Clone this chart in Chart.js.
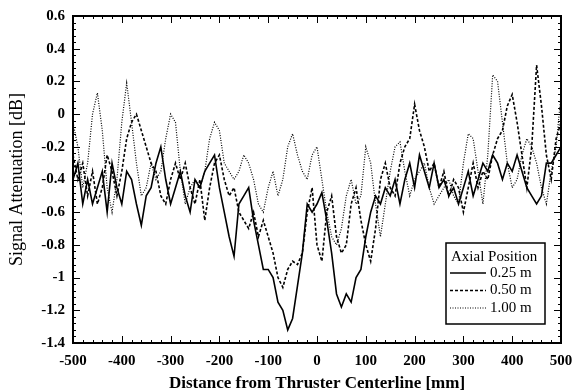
<!DOCTYPE html>
<html>
<head>
<meta charset="utf-8">
<script src="https://cdn.jsdelivr.net/npm/chart.js@4.4.1/dist/chart.umd.min.js"></script>
<style>
html,body{margin:0;padding:0;background:#fff;}
#wrap{width:573px;height:392px;}
</style>
</head>
<body>
<div id="wrap"><canvas id="c" width="573" height="392"></canvas></div>
<script>
const distances = [-500,-490,-480,-470,-460,-450,-440,-430,-420,-410,-400,-390,-380,-370,-360,-350,-340,-330,-320,-310,-300,-290,-280,-270,-260,-250,-240,-230,-220,-210,-200,-190,-180,-170,-160,-150,-140,-130,-120,-110,-100,-90,-80,-70,-60,-50,-40,-30,-20,-10,0,10,20,30,40,50,60,70,80,90,100,110,120,130,140,150,160,170,180,190,200,210,220,230,240,250,260,270,280,290,300,310,320,330,340,350,360,370,380,390,400,410,420,430,440,450,460,470,480,490,500];

const pos025 = [-0.40,-0.30,-0.55,-0.40,-0.55,-0.45,-0.35,-0.60,-0.30,-0.45,-0.55,-0.35,-0.40,-0.55,-0.68,-0.50,-0.45,-0.30,-0.20,-0.40,-0.55,-0.45,-0.35,-0.50,-0.60,-0.40,-0.45,-0.35,-0.30,-0.25,-0.45,-0.60,-0.75,-0.87,-0.55,-0.50,-0.45,-0.65,-0.80,-0.95,-0.95,-1.00,-1.15,-1.20,-1.32,-1.25,-1.05,-0.85,-0.55,-0.60,-0.55,-0.48,-0.65,-0.85,-1.10,-1.18,-1.10,-1.15,-1.00,-0.95,-0.75,-0.60,-0.50,-0.55,-0.45,-0.50,-0.40,-0.55,-0.40,-0.30,-0.45,-0.25,-0.35,-0.45,-0.30,-0.45,-0.40,-0.50,-0.45,-0.55,-0.45,-0.35,-0.50,-0.40,-0.30,-0.35,-0.25,-0.30,-0.40,-0.30,-0.35,-0.25,-0.35,-0.45,-0.50,-0.55,-0.50,-0.30,-0.30,-0.25,-0.20];

const pos050 = [-0.25,-0.40,-0.30,-0.50,-0.35,-0.55,-0.45,-0.25,-0.35,-0.50,-0.35,-0.15,-0.05,0.00,-0.10,-0.20,-0.30,-0.35,-0.50,-0.55,-0.40,-0.30,-0.40,-0.30,-0.45,-0.55,-0.40,-0.65,-0.45,-0.30,-0.25,-0.40,-0.50,-0.45,-0.60,-0.65,-0.70,-0.60,-0.75,-0.65,-0.75,-0.85,-1.00,-1.06,-0.95,-0.90,-0.92,-0.85,-0.60,-0.45,-0.80,-0.90,-0.60,-0.50,-0.75,-0.85,-0.80,-0.55,-0.45,-0.65,-0.80,-0.90,-0.70,-0.40,-0.30,-0.45,-0.50,-0.30,-0.20,-0.15,0.06,-0.10,-0.20,-0.35,-0.30,-0.45,-0.35,-0.50,-0.40,-0.45,-0.60,-0.45,-0.30,-0.45,-0.35,-0.40,-0.25,-0.15,-0.10,0.05,0.12,-0.05,-0.25,-0.45,-0.20,0.30,0.05,-0.25,-0.40,-0.15,-0.05];

const pos100 = [-0.05,-0.20,-0.45,-0.30,0.00,0.13,-0.10,-0.45,-0.60,-0.40,-0.05,0.19,-0.05,-0.30,-0.50,-0.45,-0.30,-0.40,-0.35,-0.15,0.00,-0.05,-0.35,-0.55,-0.45,-0.40,-0.45,-0.35,-0.15,-0.05,-0.10,-0.30,-0.35,-0.40,-0.35,-0.25,-0.30,-0.40,-0.55,-0.60,-0.45,-0.35,-0.50,-0.40,-0.20,-0.12,-0.25,-0.35,-0.40,-0.25,-0.20,-0.40,-0.60,-0.75,-0.80,-0.70,-0.50,-0.40,-0.55,-0.50,-0.20,-0.30,-0.55,-0.75,-0.55,-0.35,-0.20,-0.17,-0.35,-0.50,-0.40,-0.35,-0.30,-0.45,-0.55,-0.50,-0.45,-0.40,-0.50,-0.55,-0.30,-0.12,-0.15,-0.35,-0.55,-0.25,0.24,0.20,-0.05,-0.30,-0.45,-0.40,-0.25,-0.15,-0.20,-0.30,-0.45,-0.55,-0.35,-0.20,0.12];

const seriesLabels = ['0.25 m','0.50 m','1.00 m'];
const legendTitle = 'Axial Position';
const xTitle = 'Distance from Thruster Centerline [mm]';
const yTitle = 'Signal Attenuation [dB]';

function pts(vals){ return distances.map((d,i)=>({x:d,y:vals[i]})); }

const serif = "'Liberation Serif','Times New Roman',serif";

const tickPlugin = {
  id:'inTicks',
  afterDraw(chart){
    const ctx = chart.ctx, a = chart.chartArea;
    const xs = chart.scales.x, ys = chart.scales.y;
    ctx.save();
    ctx.strokeStyle = '#000';
    ctx.lineWidth = 1;
    for(let v=-500; v<=500; v+=20){
      const p = Math.round(xs.getPixelForValue(v))+0.5;
      const major = (v % 100 === 0);
      const len = major ? 7 : 3;
      ctx.beginPath();
      ctx.moveTo(p,a.bottom); ctx.lineTo(p,a.bottom-len);
      ctx.moveTo(p,a.top); ctx.lineTo(p,a.top+len);
      ctx.stroke();
    }
    for(let k=-35; k<=15; k++){
      const v = k*0.04;
      const p = Math.round(ys.getPixelForValue(v))+0.5;
      const major = (k % 5 === 0);
      const len = major ? 7 : 3;
      ctx.beginPath();
      ctx.moveTo(a.left,p); ctx.lineTo(a.left+len,p);
      ctx.moveTo(a.right,p); ctx.lineTo(a.right-len,p);
      ctx.stroke();
    }
    ctx.lineWidth = 2;
    ctx.strokeRect(a.left, a.top, a.right-a.left, a.bottom-a.top);
    // legend
    const lx = a.right-115, ly = a.bottom-100, lw = 99, lh = 81;
    ctx.fillStyle = '#fff';
    ctx.fillRect(lx,ly,lw,lh);
    ctx.lineWidth = 1.5;
    ctx.strokeRect(lx,ly,lw,lh);
    ctx.fillStyle = '#000';
    ctx.font = "15px " + serif;
    ctx.textBaseline = 'middle';
    ctx.textAlign = 'left';
    ctx.fillText(legendTitle, lx+5, ly+14);
    chart.data.datasets.forEach((ds,i)=>{
      const y = ly+30+i*17.5;
      ctx.save();
      ctx.lineWidth = ds.borderWidth;
      ctx.setLineDash(ds.borderDash||[]);
      ctx.beginPath();
      ctx.moveTo(lx+4,y); ctx.lineTo(lx+40,y);
      ctx.stroke();
      ctx.restore();
      ctx.fillText(ds.label, lx+44, y);
    });
    ctx.restore();
  }
};

new Chart(document.getElementById('c'),{
  type:'line',
  data:{
    datasets:[
      {label:seriesLabels[0], data:pts(pos025), borderColor:'#000', borderWidth:1.6, borderDash:[], pointRadius:0, tension:0, fill:false},
      {label:seriesLabels[1], data:pts(pos050), borderColor:'#000', borderWidth:1.6, borderDash:[3,2], pointRadius:0, tension:0, fill:false},
      {label:seriesLabels[2], data:pts(pos100), borderColor:'#000', borderWidth:1.2, borderDash:[1,1.5], pointRadius:0, tension:0, fill:false}
    ]
  },
  plugins:[tickPlugin],
  options:{
    responsive:false,
    animation:false,
    devicePixelRatio:1,
    layout:{padding:{top:16,right:12,left:0,bottom:0}},
    plugins:{legend:{display:false},tooltip:{enabled:false}},
    scales:{
      x:{
        type:'linear', min:-500, max:500,
        grid:{display:false, drawTicks:false},
        border:{display:false},
        ticks:{stepSize:100, color:'#000', padding:9, maxRotation:0, font:{family:serif, size:15, weight:'bold'}},
        title:{display:true, text:xTitle, color:'#000', padding:{top:0,bottom:0}, font:{family:serif, size:17, weight:'bold', lineHeight:1}},
        afterFit(s){ s.height = 49; s.paddingLeft = 0; s.paddingRight = 0; }
      },
      y:{
        type:'linear', min:-1.4, max:0.6,
        grid:{display:false, drawTicks:false},
        border:{display:false},
        ticks:{stepSize:0.2, color:'#000', padding:8,
          font:{family:serif, size:15, weight:'bold'},
          callback:(v)=>{ const r = Math.round(v*10)/10; return r===0 ? '0' : String(r); }},
        title:{display:true, text:yTitle, color:'#000', padding:{top:8,bottom:0}, font:{family:serif, size:18, lineHeight:1}},
        afterFit(s){ s.width = 73; s.paddingTop = 0; s.paddingBottom = 0; }
      }
    }
  }
});
</script>
</body>
</html>
